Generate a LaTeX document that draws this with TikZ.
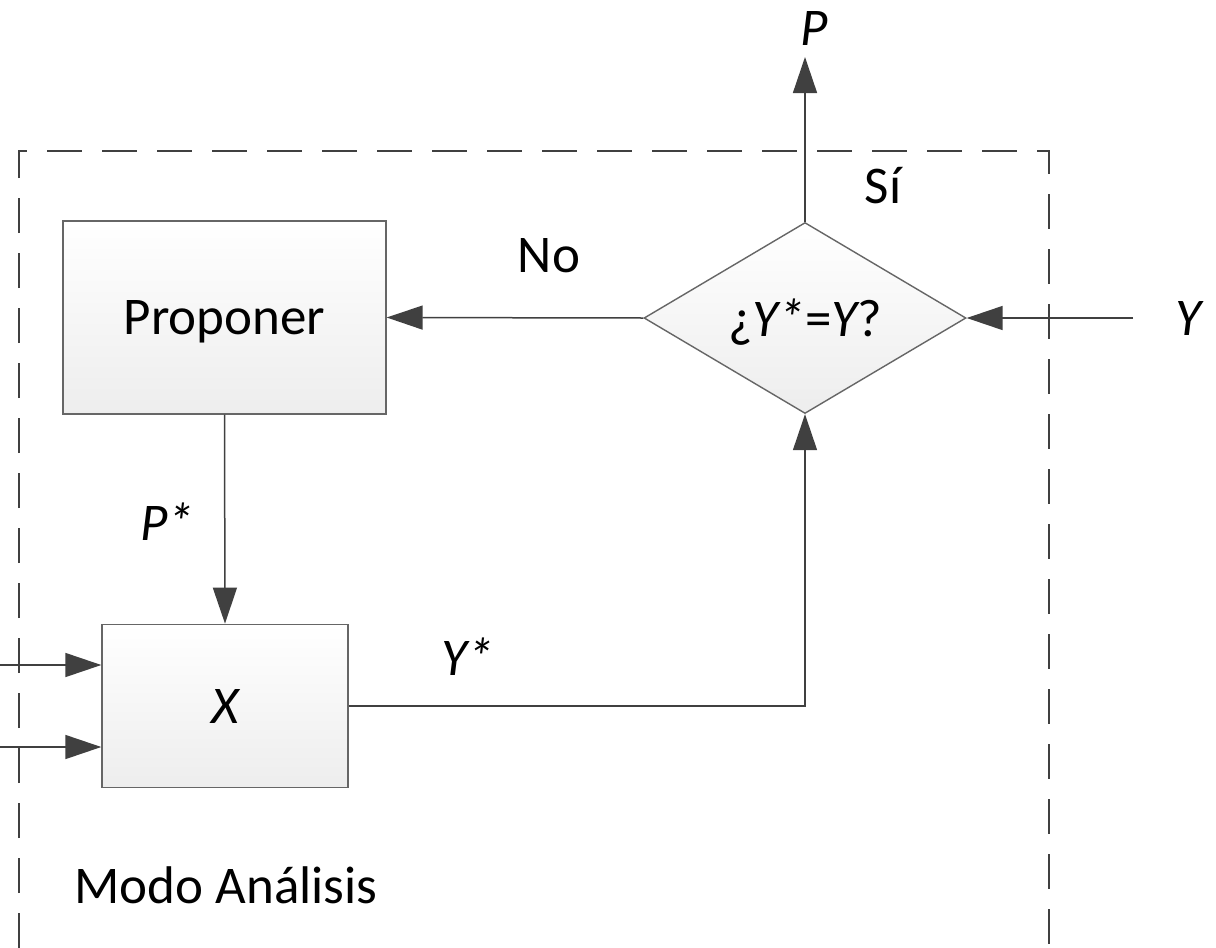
\documentclass[tikz,border=0pt]{standalone}
\usepackage{fontspec}
\setmainfont{Carlito}
\usetikzlibrary{arrows.meta,shapes.geometric}

\tikzset{
	linea/.style={draw=black!75, line width=0.75pt},
	flecha/.style={linea, -{Triangle[length=18pt,width=12pt]}},
	caja/.style={draw=black!60, line width=0.7pt, top color=white, bottom color=black!7, inner sep=0pt, text depth=0pt},
	rombo/.style={caja, diamond, aspect=1.69, minimum width=161pt, minimum height=95.5pt},
	etiqueta/.style={font=\fontsize{26.5}{30}\selectfont, inner sep=0pt}
}

\begin{document}
\begin{tikzpicture}[x=0.5pt,y=-0.5pt]
	\useasboundingbox (0,0) rectangle (1216,948);
	\fill[white] (0,0) rectangle (1216,948);

	%dashed frame of the analysis mode, open at the bottom
	\draw[black!75, line width=1pt, dash pattern=on 17.5pt off 10pt]
		(19,948) -- (19,151) -- (1049,151) -- (1049,948);

	%blocks
	\node[caja, minimum width=161.5pt, minimum height=96.5pt, etiqueta] (proponer) at (224.5,317.5) {Proponer};
	\node[caja, minimum width=123pt, minimum height=81.7pt, etiqueta] (modelo) at (225,706) {\itshape X};
	\node[rombo, etiqueta] (prueba) at (805,318) {¿{\itshape Y*}={\itshape Y}?};

	%free ends
	\coordinate (yin) at (1133,318);
	\coordinate (pout) at (805,57);
	\coordinate (in1) at (0,665);
	\coordinate (in2) at (0,747);
	\coordinate (esquina) at (805,706);

	%connectors
	\draw[flecha] (yin) -- (prueba.east);
	\draw[flecha] (prueba.north) -- (pout);
	\draw[flecha] (prueba.west) -- (proponer.east);
	\draw[flecha] (proponer.south) -- (modelo.north);
	\draw[flecha] (modelo.east) -- (esquina) -- (prueba.south);
	\draw[flecha] (in1) -- (modelo.west |- in1);
	\draw[flecha] (in2) -- (modelo.west |- in2);

	%labels
	\node[etiqueta] (lp) at (814,28) {\itshape P};
	\node[etiqueta] (ly) at (1188,318) {\itshape Y};
	\node[etiqueta] (lsi) at (883,186) {Sí};
	\node[etiqueta] (lno) at (549,256) {No};
	\node[etiqueta] (lpe) at (167,522) {\itshape P*};
	\node[etiqueta] (lye) at (468,657) {\itshape Y*};
	\node[etiqueta] (modo) at (226,885) {Modo Análisis};
\end{tikzpicture}
\end{document}
